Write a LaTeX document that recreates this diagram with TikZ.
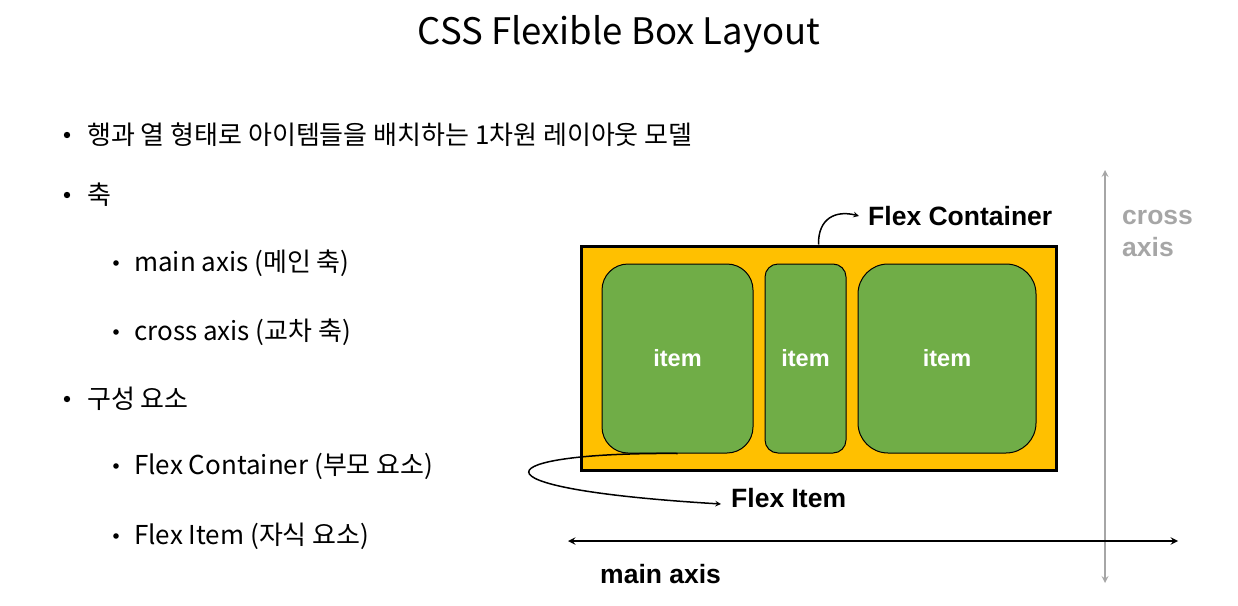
\documentclass[tikz,border=0pt]{standalone}
\usepackage{fontspec}
\setsansfont{Liberation Sans}
\newfontfamily\kr{Noto Sans CJK KR}
\usetikzlibrary{arrows}
\definecolor{flexorange}{HTML}{FFC000}
\definecolor{flexgreen}{HTML}{70AD47}
\definecolor{axisgray}{HTML}{A6A6A6}
\newcommand{\fs}[1]{\fontsize{#1}{#1}\selectfont}
\tikzset{
  bullettext/.style={anchor=west,inner sep=0pt,font=\kr\fs{26}},
  flexbox/.style={draw=black,line width=1pt,fill=flexgreen,inner sep=0pt,
    text=white,font=\sffamily\bfseries\fs{23.5}},
  flexlabel/.style={anchor=west,inner sep=0pt,font=\sffamily\bfseries\fs{26.5}}
}

\begin{document}
\begin{tikzpicture}[x=1pt,y=-1pt]
  \useasboundingbox (0,0) rectangle (1238,605);
  \node[font=\kr\fs{36.5},inner sep=0pt] (title) at (619,34) {CSS Flexible Box Layout};

  \node[bullettext] (l1) at (87,135) {행과 열 형태로 아이템들을 배치하는 1차원 레이아웃 모델};
  \node[bullettext] (l2) at (87,195) {축};
  \node[bullettext] (l21) at (134,263) {main axis (메인 축)};
  \node[bullettext] (l22) at (134,332) {cross axis (교차 축)};
  \node[bullettext] (l3) at (87,399) {구성 요소};
  \node[bullettext] (l31) at (134,466) {Flex Container (부모 요소)};
  \node[bullettext] (l32) at (134,536) {Flex Item (자식 요소)};
  \foreach \y in {135,195,399} \fill (67,\y) circle (3.2);
  \foreach \y in {263,332,466,536} \fill (116,\y) circle (2.8);

  \node[draw=black,line width=3pt,fill=flexorange,inner sep=0pt,
    minimum width=475pt,minimum height=224pt] (cont) at (818.5,358) {};
  \node[flexbox,rounded corners=26pt,minimum width=151pt,minimum height=189pt]
    (item1) at (677.5,358.5) {item};
  \node[flexbox,rounded corners=13pt,minimum width=81pt,minimum height=189pt]
    (item2) at (805.5,358.5) {item};
  \node[flexbox,rounded corners=30pt,minimum width=178pt,minimum height=189pt]
    (item3) at (947,358.5) {item};

  \node[flexlabel] (fcont) at (868,216) {Flex Container};
  \node[flexlabel] (fitem) at (731,498) {Flex Item};
  \draw[-stealth,line width=1.5pt] (cont.north) .. controls (818,218) and (836,210) .. ([xshift=-9pt]fcont.west);
  \draw[-stealth,line width=1.5pt] (item1.south) .. controls (490,452) and (455,488) .. ([xshift=-10pt,yshift=-6pt]fitem.west);

  \coordinate (mainl) at (568,541);
  \coordinate (mainr) at (1178,541);
  \coordinate (crosst) at (1105,170);
  \coordinate (crossb) at (1105,583);
  \draw[stealth-stealth,line width=2pt,axisgray] (crosst) -- (crossb);
  \draw[stealth-stealth,line width=2.2pt] (mainl) -- (mainr);
  \node[flexlabel] (mainlab) at (600,574) {main axis};
  \node[flexlabel,text=axisgray,align=left,anchor=north west,
    font=\sffamily\bfseries\fontsize{26.5}{32}\selectfont]
    (crosslab) at (1122,210) {cross\\axis};
\end{tikzpicture}
\end{document}
